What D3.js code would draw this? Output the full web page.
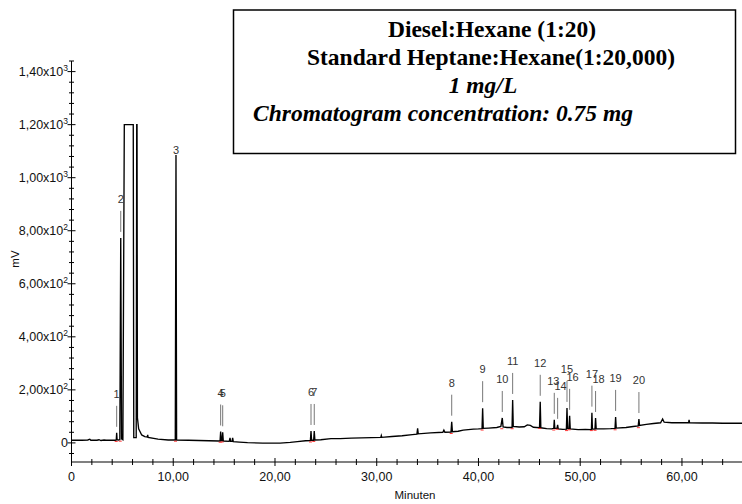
<!DOCTYPE html>
<html><head><meta charset="utf-8">
<script src="https://cdn.jsdelivr.net/npm/d3@7"></script>
<style>
html,body{margin:0;padding:0;background:#fff;}
svg{display:block;font-family:"Liberation Sans",Arial,sans-serif;}
</style></head>
<body><svg id="c" width="742" height="504"></svg>
<script>
// ---- data ----
const traceTime = [0,1.0,1.6,1.8,1.9,2.5,2.7,2.9,3.2,3.4,4.3,
 4.40,4.44,4.48,4.6,4.75,4.84,4.92,5.05,
 5.19,6.07,6.12,6.36,6.41,6.44,
 6.48,6.6,6.9,7.2,7.45,7.49,7.53,8.5,9.5,10.2,
 10.27,10.33,11.5,12.5,13.5,14.5,
 14.6,14.66,14.72,14.8,14.86,14.92,15.5,15.58,15.64,15.78,15.84,15.9,
 16.5,17.3,18.8,20.5,21.5,22.2,23.0,23.48,
 23.54,23.6,23.8,23.86,23.92,24.5,25.5,26.4,27.5,28.5,29.5,30.4,30.45,30.5,31.5,32.5,33.5,33.95,34.02,34.08,35.3,36.5,36.6,36.7,37.3,
 37.37,37.44,38.0,38.5,39.0,39.5,40.0,40.35,
 40.41,40.47,41.0,41.8,42.2,
 42.34,42.42,42.8,43.3,
 43.36,43.42,44.0,44.5,44.8,45.1,45.4,46.0,
 46.07,46.13,46.7,47.2,47.4,
 47.45,47.5,47.72,47.78,47.84,48.3,48.64,
 48.70,48.76,48.9,48.96,49.02,49.8,50.5,51.1,
 51.15,51.2,51.45,51.51,51.57,52.3,53.0,53.42,
 53.48,53.54,54.5,55.2,55.7,
 55.77,55.83,56.5,57.2,57.9,58.1,58.25,59.0,60.0,60.65,60.7,60.75,62.0,63.0,64,65,66];
const traceMV = [10,10,11,14,10,10,12,9,11,10,10,
 11,38,12,11,12,773,15,12,
 1200,1200,20,20,1200,1200,
 95,53,30,24,22,30,21,14,11,11,
 1086,11,10,9,8,7,
 7,43,8,8,40,7,6,19,6,6,19,5,
 3,1,-1,-1,2,5,8,9,
 45,10,10,45,11,12,16,16,18,19,20,21,28,21,24,27,31,33,55,34,38,40,48,40,41,
 80,42,44,48,50,52,53,54,
 131,55,56,58,62,
 94,60,58,58,
 162,62,60,61,68,66,59,57,
 155,57,54,53,55,
 87,56,55,68,53,51,52,
 132,54,54,102,53,50,51,50,
 114,52,52,94,53,53,54,55,
 98,56,58,62,64,
 90,66,70,73,76,90,78,76,76,76,87,76,75,75,74,74,74];

const peakLabels = ["1","2","3","4","5","6","7","8","9","10","11","12","13","14","15","16","17","18","19","20"];
const peakTime   = [4.44,4.84,10.27,14.66,14.86,23.54,23.86,37.37,40.41,42.34,43.36,46.07,47.45,47.78,48.70,48.96,51.15,51.51,53.48,55.77];
const peakMV     = [38,773,1086,43,40,45,45,80,131,94,162,155,87,68,132,102,114,94,98,90];

const xTicks = [0,10,20,30,40,50,60];
const xTickLabels = ["0","10,00","20,00","30,00","40,00","50,00","60,00"];
const yTicks = [0,200,400,600,800,1000,1200,1400];
const yTickMantissa = ["0","2,00","4,00","6,00","8,00","1,00","1,20","1,40"];
const yTickExponent = ["","2","2","2","2","3","3","3"];

const xTitle = "Minuten";
const yTitle = "mV";
const boxLines = ["Diesel:Hexane (1:20)","Standard Heptane:Hexane(1:20,000)","1 mg/L","Chromatogram concentration: 0.75 mg"];

// ---- drawing ----
const svg = d3.select("#c");
svg.append("rect").attr("width",742).attr("height",504).attr("fill","#fff");

const x = d3.scaleLinear().domain([0,66]).range([71.5,743]);
const y = d3.scaleLinear().domain([-72,1440]).range([462,61]);

// x axis
const xAxisY = y(-72);
svg.append("line").attr("x1",x(0)).attr("x2",742).attr("y1",xAxisY).attr("y2",xAxisY)
  .attr("stroke","#808080").attr("stroke-width",2);
const xMinor = d3.range(0,67,2);
svg.append("g").selectAll("line").data(xMinor).join("line")
  .attr("x1",d=>x(d)).attr("x2",d=>x(d))
  .attr("y1",d=> xTicks.includes(d)? xAxisY-4 : xAxisY-3)
  .attr("y2",d=> xTicks.includes(d)? xAxisY+4 : xAxisY+3)
  .attr("stroke","#000").attr("stroke-width",1);
svg.append("g").selectAll("text").data(xTicks).join("text")
  .attr("x",d=>x(d)).attr("y",481).attr("text-anchor","middle")
  .attr("font-size",12.5).attr("fill","#111")
  .text((d,i)=>xTickLabels[i]);
svg.append("text").attr("x",415).attr("y",499).attr("text-anchor","middle")
  .attr("font-size",11.5).attr("fill","#111").text(xTitle);

// y axis
svg.append("line").attr("x1",x(0)).attr("x2",x(0)).attr("y1",y(-72)).attr("y2",y(1440))
  .attr("stroke","#000").attr("stroke-width",1);
const yMinor = d3.range(-40,1441,40);
svg.append("g").selectAll("line").data(yMinor).join("line")
  .attr("y1",d=>y(d)).attr("y2",d=>y(d))
  .attr("x1",d=> yTicks.includes(d)? x(0)-4 : x(0)-2.5)
  .attr("x2",d=> yTicks.includes(d)? x(0)+4 : x(0)+2.5)
  .attr("stroke","#000").attr("stroke-width",1);
const yl = svg.append("g").selectAll("text").data(yTicks).join("text")
  .attr("x",68).attr("y",d=>y(d)+4.5).attr("text-anchor","end")
  .attr("font-size",12.5).attr("fill","#111");
yl.each(function(d,i){
  const t = d3.select(this);
  if (yTickExponent[i]) {
    t.append("tspan").text(yTickMantissa[i]+"x10");
    t.append("tspan").attr("dy",-5).attr("font-size",8.5).text(yTickExponent[i]);
  } else {
    t.append("tspan").text(yTickMantissa[i]);
  }
});
svg.append("text").attr("transform","translate(19,259) rotate(-90)")
  .attr("text-anchor","middle").attr("font-size",11.5).attr("fill","#111").text(yTitle);

// trace
const pts = traceTime.map((t,i)=>[t,traceMV[i]]);
const line = d3.line().x(d=>x(d[0])).y(d=>y(d[1]));
svg.append("path").datum(pts).attr("d",line).attr("fill","none")
  .attr("stroke","#000").attr("stroke-width",1.35).attr("stroke-linejoin","miter");

// red integration marks at the base of each peak
const bis = d3.bisector(d=>d[0]).left;
function baseAt(t){ const i = bis(pts,t); const a = pts[Math.max(0,i-2)]; return a[1]; }
svg.append("g").selectAll("line").data(peakTime).join("line")
  .attr("x1",d=>x(d)-2).attr("x2",d=>x(d)+1)
  .attr("y1",d=>y(baseAt(d))+1.2).attr("y2",d=>y(baseAt(d))+1.2)
  .attr("stroke","#f22").attr("stroke-width",0.9);

// peak markers and labels
const labelDx = {"14":3,"16":3,"18":3,"13":-1};
const g = svg.append("g");
peakTime.forEach((t,i)=>{
  const px = x(t), top = y(peakMV[i]);
  const tall = peakMV[i] > 1000;
  if (!tall) {
    g.append("line").attr("x1",px).attr("x2",px).attr("y1",top-6).attr("y2",top-27)
      .attr("stroke","#777").attr("stroke-width",1);
  }
  g.append("text").attr("x",px+(labelDx[peakLabels[i]]||0))
    .attr("y", tall ? top-1 : top-35)
    .attr("text-anchor","middle").attr("font-size",11).attr("fill","#333")
    .text(peakLabels[i]);
});

// annotation box
svg.append("rect").attr("x",233.5).attr("y",10).attr("width",502).attr("height",143.5)
  .attr("fill","#fff").attr("stroke","#000").attr("stroke-width",1.5);
const bf = '"Liberation Serif","Times New Roman",serif';
const fs = 23.5;
svg.append("text").attr("x",492).attr("y",37).attr("text-anchor","middle")
  .attr("font-family",bf).attr("font-weight","bold").attr("font-size",fs).text(boxLines[0]);
svg.append("text").attr("x",491).attr("y",65).attr("text-anchor","middle")
  .attr("font-family",bf).attr("font-weight","bold").attr("font-size",fs).text(boxLines[1]);
svg.append("text").attr("x",483).attr("y",93).attr("text-anchor","middle")
  .attr("font-family",bf).attr("font-weight","bold").attr("font-style","italic").attr("font-size",fs).text(boxLines[2]);
svg.append("text").attr("x",253).attr("y",121).attr("text-anchor","start")
  .attr("font-family",bf).attr("font-weight","bold").attr("font-style","italic").attr("font-size",fs).text(boxLines[3]);
</script></body></html>
